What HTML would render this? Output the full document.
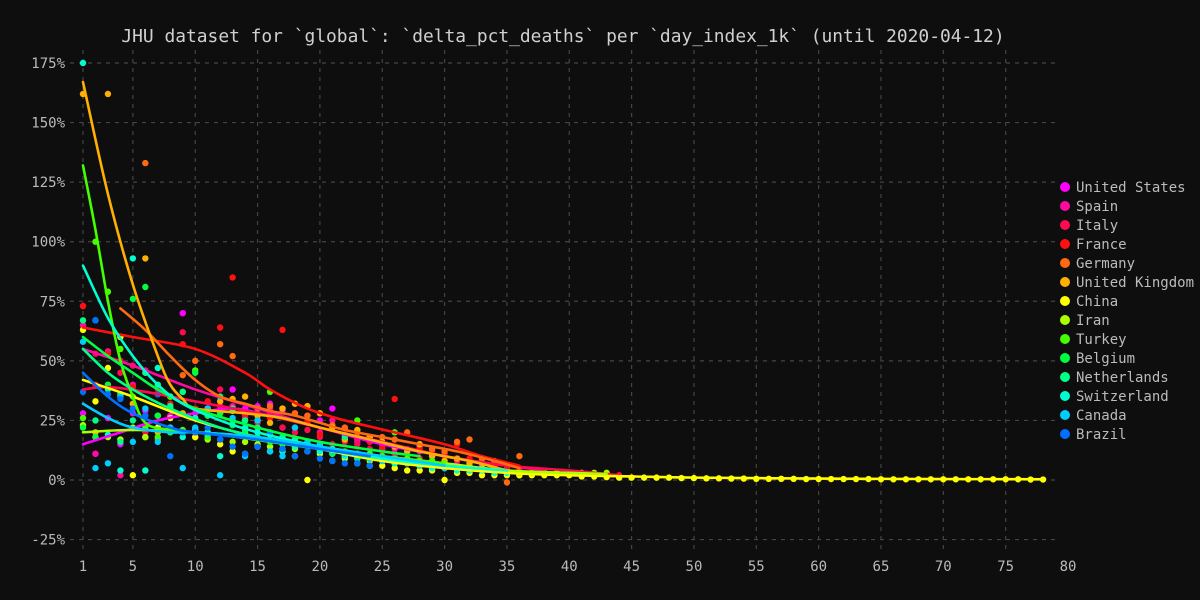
<!DOCTYPE html>
<html><head><meta charset="utf-8">
<style>
html,body{margin:0;padding:0;background:#0e0e0e;}
svg{display:block;font-family:"DejaVu Sans Mono","Liberation Mono",monospace;}
</style></head>
<body>
<svg id="chart" width="1200" height="600" xmlns="http://www.w3.org/2000/svg">
<rect width="1200" height="600" fill="#0e0e0e"/>
<text x="563" y="42" text-anchor="middle" font-size="17.9" fill="#d0d0d0">JHU dataset for `global`: `delta_pct_deaths` per `day_index_1k` (until 2020-04-12)</text>
<g id="grid"></g>
<g id="axes"></g>
<g id="series"></g>
<g id="legend"></g>
</svg>
<script>
const xTicks=[1,5,10,15,20,25,30,35,40,45,50,55,60,65,70,75,80];
const yTicks=[-25,0,25,50,75,100,125,150,175];
const countries=["United States","Spain","Italy","France","Germany","United Kingdom","China","Iran","Turkey","Belgium","Netherlands","Switzerland","Canada","Brazil"];
const colors=["#ff00ff","#ff0aa0","#ff0a50","#ff1010","#ff6a10","#ffb000","#ffff00","#aaff00","#44ff00","#00ff40","#00ff88","#00ffd0","#00ccff","#0070ff"];
const startDays=[1,1,1,1,4,1,1,1,1,1,1,1,1,1];
const usVals=[28,11,26,15,28,29,22,27,70,28,30,33,38,30,31,32,29,28,27,25,30,22,17,16,13,11,13,14,12,11,9,7,6];
const spainVals=[65,11,54,2,40,46,22,20,20,18,30,31,31,27,28,30,22,22,24,20,25,19,16,18,15,13,12,12,10,8,8,6,5,5,4,4,3,3];
const italyVals=[73,53,53,45,48,20,36,35,62,20,33,38,30,26,24,28,22,20,21,18,15,16,15,13,12,10,9,9,8,7,6,6,5,5,4,4,3,3,3,3,2,2,2,2];
const franceVals=[73,40,53,50,39,45,38,32,57,30,33,64,85,28,25,26,63,22,24,19,22,17,18,16,14,34,12,13,11,10,15,9,8,6,5,3];
const germanyVals=[36,32,133,17,30,44,50,27,57,52,25,30,31,30,28,27,28,23,22,20,18,18,17,20,15,13,12,16,17,9,8,-1,10];
const ukVals=[162,20,162,60,32,93,20,35,28,20,30,33,34,35,27,24,30,32,31,28,22,17,21,18,16,14,12,15,10,8,9,7,5,4,3,2];
const chinaVals=[63,33,47,60,2,18,22,26,20,18,20,15,12,11,14,12,12,10,0,11,8,9,7,6,6,5,4,4,4,0,3,3,2,2,2,2,2,2,2,2,1.5,1.5,1.2,1,1,1,1,1,0.8,0.8,0.7,0.7,0.6,0.6,0.5,0.5,0.5,0.5,0.4,0.4,0.4,0.4,0.4,0.4,0.3,0.3,0.3,0.3,0.3,0.3,0.3,0.3,0.3,0.3,0.3,0.3,0.2,0.2];
const iranVals=[23,18,18,17,22,18,27,30,20,21,17,17,16,16,15,14,13,13,12,12,11,10,9,8,8,7,7,6,6,5,5,4,4,4,3,3,3,3,3,3,3,3,3];
const turkeyVals=[26,100,79,55,35,22,18,35,21,46,18,28,29,20,25,37,18,17,15,14,13,12,25,11,10,20,9,8,8,7];
const belgiumVals=[22,18,40,36,76,81,27,20,37,45,27,28,23,21,18,16,15,14,12,12,11,10,9,9,8,8,7,7];
const netherlandsVals=[67,25,38,16,25,45,40,31,37,21,19,35,30,25,22,20,18,17,15,13,12,18,11,10,9,9,8,7,6,6];
const switzerlandVals=[175,67,19,4,93,4,47,22,18,26,20,10,25,22,20,19,12,14,15,12,13,10,11,9,8,7,8,6,5,5,4,4,4,3,3];
const canadaVals=[58,5,7,35,16,30,16,22,5,22,30,2,26,10,25,12,10,22,16,15,12,11,10,9,8,8,7,6,6,5];
const brazilVals=[37,67,36,34,30,27,36,10,20,20,22,17,14,11,14,20,13,10,12,9,8,7,7,6];
const allVals=[usVals,spainVals,italyVals,franceVals,germanyVals,ukVals,chinaVals,iranVals,turkeyVals,belgiumVals,netherlandsVals,switzerlandVals,canadaVals,brazilVals];
const usTrendX=[1,4,7,10,13,16,20,25,30,33];const usTrendY=[15,20,25,28,30,27,22,15,10,7];
const spainTrendX=[1,5,10,15,20,25,30,35,38];const spainTrendY=[55,48,38,30,22,16,10,6,4];
const italyTrendX=[1,3,6,10,15,20,25,30,35,40,44];const italyTrendY=[38,39,37,33,28,22,16,10,6,4,2];
const franceTrendX=[1,5,10,14,16,19,22,26,30,33,36];const franceTrendY=[64,60,55,45,38,30,25,20,15,10,6];
const germanyTrendX=[4,6,8,10,12,14,16,18,20,22,25,28,31,34,36];const germanyTrendY=[72,63,52,42,35,32,29,27,24,21,18,15,12,8,5];
const ukTrendX=[1,3,5,7,8,9,10,14,17,20,24,28,32,35];const ukTrendY=[167,120,82,52,40,34,30,28,26,22,17,12,8,4];
const chinaTrendX=[1,5,10,15,20,25,30,35,40,45,50,60,70,78];const chinaTrendY=[42,35,25,18,13,8,5,3,2,1.5,1,0.6,0.4,0.3];
const iranTrendX=[1,5,10,15,20,25,30,35,40,43];const iranTrendY=[20,21,20,18,14,10,7,4,3,2.5];
const turkeyTrendX=[1,2,3,4,5,6,8,12,16,20,25,30];const turkeyTrendY=[132,105,75,50,35,24,21,19,16,13,10,7];
const belgiumTrendX=[1,3,5,7,10,15,20,25,28];const belgiumTrendY=[60,52,45,38,30,22,16,12,10];
const netherlandsTrendX=[1,3,5,8,12,16,20,25,30];const netherlandsTrendY=[55,45,38,30,22,17,13,9,6];
const switzerlandTrendX=[1,3,5,7,9,12,15,20,25,30,35];const switzerlandTrendY=[90,68,52,40,32,25,20,14,9,6,4];
const canadaTrendX=[1,3,5,8,10,15,20,25,30];const canadaTrendY=[32,26,22,20,20,18,14,10,6];
const brazilTrendX=[1,3,5,8,10,15,20,24];const brazilTrendY=[45,35,28,22,20,17,13,10];
const trendXs=[usTrendX,spainTrendX,italyTrendX,franceTrendX,germanyTrendX,ukTrendX,chinaTrendX,iranTrendX,turkeyTrendX,belgiumTrendX,netherlandsTrendX,switzerlandTrendX,canadaTrendX,brazilTrendX];
const trendYs=[usTrendY,spainTrendY,italyTrendY,franceTrendY,germanyTrendY,ukTrendY,chinaTrendY,iranTrendY,turkeyTrendY,belgiumTrendY,netherlandsTrendY,switzerlandTrendY,canadaTrendY,brazilTrendY];

const NS="http://www.w3.org/2000/svg";
const X0=83,X1=1068,XMIN=1,XMAX=80;
const Y0=480,YPER=(480-63)/175;
function sx(v){return X0+(v-XMIN)*(X1-X0)/(XMAX-XMIN);}
function sy(v){return Y0-v*YPER;}
function mk(tag,attrs,parent){const e=document.createElementNS(NS,tag);for(const k in attrs)e.setAttribute(k,attrs[k]);parent.appendChild(e);return e;}
const grid=document.getElementById('grid'),axes=document.getElementById('axes'),series=document.getElementById('series'),legend=document.getElementById('legend');
xTicks.forEach(t=>{
  if(t<80){const l=mk('line',{x1:sx(t),x2:sx(t),y1:50,y2:552,stroke:'#444','stroke-width':1.2,'stroke-dasharray':'4,5'},grid);
  
  }
  const tx=mk('text',{x:sx(t),y:571,'text-anchor':'middle','font-size':14,fill:'#bbb'},axes);tx.textContent=t;
  
  
});
yTicks.forEach(t=>{
  const l=mk('line',{x1:70,x2:1056,y1:sy(t),y2:sy(t),stroke:'#444','stroke-width':1.2,'stroke-dasharray':'4,5'},grid);
  
  
  const tx=mk('text',{x:65,y:sy(t)+5,'text-anchor':'end','font-size':14,fill:'#bbb'},axes);tx.textContent=t+'%';
  
  
});
function smoothPath(xs,ys){
  const p=xs.map((x,i)=>[sx(x),sy(ys[i])]);
  let d='M'+p[0][0]+','+p[0][1];
  for(let i=0;i<p.length-1;i++){
    const a=p[i-1]||p[i],b=p[i],c=p[i+1],e=p[i+2]||c;
    const c1=[b[0]+(c[0]-a[0])/6,b[1]+(c[1]-a[1])/6],c2=[c[0]-(e[0]-b[0])/6,c[1]-(e[1]-b[1])/6];
    d+=' C'+c1[0]+','+c1[1]+' '+c2[0]+','+c2[1]+' '+c[0]+','+c[1];
  }
  return d;
}
countries.forEach((c,ci)=>{
  const slug=c.toLowerCase().replace(/ /g,'-');
  const g=mk('g',{},series);
  
  
  allVals[ci].forEach((v,i)=>{
    const d=startDays[ci]+i;
    const pt=mk('circle',{cx:sx(d),cy:sy(v),r:3.2,fill:colors[ci]},g);
    
    
  });
});
countries.forEach((c,ci)=>{
  const slug=c.toLowerCase().replace(/ /g,'-');
  const p=mk('path',{d:smoothPath(trendXs[ci],trendYs[ci]),fill:'none',stroke:colors[ci],'stroke-width':2.6,'stroke-linecap':'round'},series);
  
  
});
countries.forEach((c,ci)=>{
  const slug=c.toLowerCase().replace(/ /g,'-');
  const y=187+ci*19;
  const g=mk('g',{},legend);
  
  
  mk('circle',{cx:1065,cy:y,r:5,fill:colors[ci]},g);
  const t=mk('text',{x:1076,y:y+5,'font-size':14,fill:'#bbb'},g);t.textContent=c;
});
</script>
</body></html>
